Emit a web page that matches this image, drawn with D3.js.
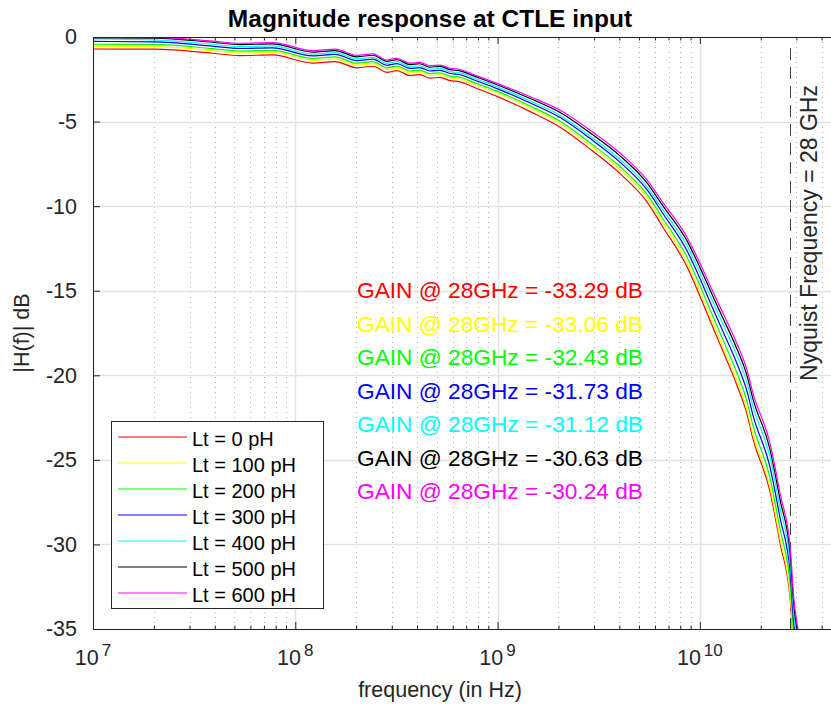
<!DOCTYPE html>
<html>
<head>
<meta charset="utf-8">
<script src="https://cdnjs.cloudflare.com/ajax/libs/d3/7.8.5/d3.min.js"></script>
<style>
body { margin: 0; background: #fff; }
svg { font-family: "Liberation Sans", Arial, Helvetica, sans-serif; }
</style>
</head>
<body>
<svg id="chart" width="831" height="707"></svg>
<script>
"use strict";

// frequency points (Hz)
var freq = [1.0e7, 2.0e7, 3.9e7, 5.3e7, 7.7e7, 1.22e8, 1.57e8, 2.02e8, 2.42e8, 2.84e8,
  3.18e8, 3.69e8, 4.13e8, 4.63e8, 5.19e8, 5.82e8, 6.52e8, 7.73e8, 9.93e8, 1.45e9,
  2.03e9, 2.86e9, 4.03e9, 5.48e9, 6.58e9, 8.63e9, 1.0e10, 1.15e10, 1.30e10, 1.52e10,
  1.71e10, 1.83e10, 2.22e10, 2.49e10, 2.80e10, 2.9e10, 3.1e10, 3.3e10];

// |H(f)| in dB for each Lt value
var lt0 = [-0.71, -0.72, -0.96, -1.10, -1.06, -1.54, -1.45, -1.82, -1.73, -2.09,
  -1.99, -2.28, -2.23, -2.43, -2.39, -2.58, -2.65, -3.00, -3.51, -4.41,
  -5.32, -6.62, -8.08, -9.75, -11.26, -13.57, -15.31, -17.06, -18.57, -20.54,
  -22.29, -23.75, -26.85, -29.91, -33.29, -35.95, -38.65, -41.55];
var lt100 = [-0.57, -0.57, -0.80, -0.94, -0.90, -1.38, -1.29, -1.66, -1.57, -1.93,
  -1.83, -2.12, -2.07, -2.27, -2.23, -2.42, -2.49, -2.82, -3.31, -4.19,
  -5.10, -6.39, -7.82, -9.48, -10.99, -13.32, -15.06, -16.81, -18.32, -20.29,
  -22.04, -23.50, -26.60, -29.66, -33.06, -35.72, -38.42, -41.32];
var lt200 = [-0.43, -0.44, -0.69, -0.83, -0.79, -1.27, -1.18, -1.55, -1.46, -1.82,
  -1.72, -2.01, -1.96, -2.16, -2.12, -2.31, -2.38, -2.71, -3.20, -4.08,
  -4.97, -6.25, -7.66, -9.30, -10.76, -12.99, -14.68, -16.41, -17.89, -19.81,
  -21.54, -22.97, -26.05, -29.08, -32.43, -35.09, -37.79, -40.69];
var lt300 = [-0.26, -0.29, -0.54, -0.68, -0.64, -1.12, -1.03, -1.40, -1.31, -1.67,
  -1.57, -1.86, -1.81, -2.01, -1.97, -2.16, -2.23, -2.56, -3.05, -3.90,
  -4.75, -5.99, -7.40, -9.03, -10.45, -12.62, -14.26, -15.96, -17.39, -19.26,
  -20.94, -22.35, -25.40, -28.41, -31.73, -34.39, -37.09, -39.99];
var lt400 = [-0.11, -0.17, -0.43, -0.57, -0.53, -1.01, -0.92, -1.29, -1.20, -1.56,
  -1.46, -1.75, -1.70, -1.90, -1.86, -2.05, -2.12, -2.45, -2.94, -3.78,
  -4.62, -5.85, -7.24, -8.85, -10.24, -12.33, -13.93, -15.57, -16.97, -18.79,
  -20.43, -21.82, -24.82, -27.81, -31.12, -33.78, -36.48, -39.38];
var lt500 = [-0.05, -0.07, -0.31, -0.45, -0.41, -0.89, -0.80, -1.17, -1.08, -1.44,
  -1.34, -1.63, -1.58, -1.78, -1.74, -1.93, -2.00, -2.33, -2.82, -3.64,
  -4.45, -5.66, -7.03, -8.63, -10.00, -12.04, -13.61, -15.23, -16.61, -18.40,
  -20.02, -21.39, -24.36, -27.33, -30.63, -33.29, -35.99, -38.89];
var lt600 = [-0.03, -0.02, -0.24, -0.37, -0.33, -0.81, -0.72, -1.09, -1.00, -1.36,
  -1.26, -1.55, -1.50, -1.70, -1.66, -1.85, -1.92, -2.25, -2.74, -3.53,
  -4.32, -5.50, -6.86, -8.45, -9.81, -11.82, -13.36, -14.96, -16.32, -18.09,
  -19.69, -21.05, -24.00, -26.96, -30.24, -32.90, -35.60, -38.50];

var seriesNames = ["Lt = 0 pH", "Lt = 100 pH", "Lt = 200 pH", "Lt = 300 pH",
  "Lt = 400 pH", "Lt = 500 pH", "Lt = 600 pH"];
var seriesColors = ["#ff0000", "#ffff00", "#00ff00", "#0000ff", "#00ffff", "#000000", "#ff00ff"];
var gainAt28 = ["-33.29", "-33.06", "-32.43", "-31.73", "-31.12", "-30.63", "-30.24"];
var yTicks = [0, -5, -10, -15, -20, -25, -30, -35];
var xDecades = [1e7, 1e8, 1e9, 1e10];
var nyquist = 28e9;

var series = [lt0, lt100, lt200, lt300, lt400, lt500, lt600];

// plot box
var pLeft = 93, pRight = 831, pTop = 37, pBottom = 629;
var xMax = 4.45e10;

var _x = d3.scaleLog().domain([1e7, xMax]).range([pLeft, pRight]);
var _y = d3.scaleLinear().domain([-35, 0]).range([pBottom, pTop]);

var svg = d3.select("#chart");
var axisColor = "#262626";

svg.append("defs").append("clipPath").attr("id", "plotclip")
  .append("rect").attr("x", pLeft).attr("y", pTop)
  .attr("width", pRight - pLeft).attr("height", pBottom - pTop);

// grid
var minorTicks = _x.ticks().filter(function (v) {
  return xDecades.indexOf(v) < 0 && v < xMax;
});

svg.append("g").selectAll("line").data(minorTicks).enter().append("line")
  .attr("x1", function (d) { return Math.round(_x(d)) + 0.5; })
  .attr("x2", function (d) { return Math.round(_x(d)) + 0.5; })
  .attr("y1", pTop).attr("y2", pBottom)
  .attr("stroke", "#b4b4b4").attr("stroke-width", 1)
  .attr("stroke-dasharray", "1,4");

svg.append("g").selectAll("line").data(xDecades).enter().append("line")
  .attr("x1", function (d) { return Math.round(_x(d)) + 0.5; })
  .attr("x2", function (d) { return Math.round(_x(d)) + 0.5; })
  .attr("y1", pTop).attr("y2", pBottom)
  .attr("stroke", "#e2e2e2").attr("stroke-width", 1.5);

svg.append("g").selectAll("line").data(yTicks).enter().append("line")
  .attr("x1", pLeft).attr("x2", pRight)
  .attr("y1", function (d) { return Math.round(_y(d)) + 0.5; })
  .attr("y2", function (d) { return Math.round(_y(d)) + 0.5; })
  .attr("stroke", "#e2e2e2").attr("stroke-width", 1.5);

// Nyquist marker
svg.append("line")
  .attr("x1", Math.round(_x(nyquist)) + 0.5).attr("x2", Math.round(_x(nyquist)) + 0.5)
  .attr("y1", 48).attr("y2", pBottom)
  .attr("stroke", "#404040").attr("stroke-width", 1)
  .attr("stroke-dasharray", "12,7");

// curves
var valueline = d3.line()
  .x(function (d) { return _x(d.f); })
  .y(function (d) { return _y(d.v); })
  .curve(d3.curveMonotoneX);

var curves = svg.append("g").attr("clip-path", "url(#plotclip)");
series.forEach(function (vals, i) {
  var pts = freq.map(function (f, j) { return { f: f, v: vals[j] }; });
  curves.append("path").datum(pts)
    .attr("d", valueline)
    .attr("fill", "none")
    .attr("stroke", seriesColors[i])
    .attr("stroke-width", 1.2);
});

// axes (ticks inside, MATLAB style)
function styleAxis(g) {
  g.selectAll("path.domain").attr("stroke", axisColor);
  g.selectAll(".tick line").attr("stroke", axisColor);
  g.selectAll("text").attr("fill", "#262626");
}

svg.append("g").attr("transform", "translate(0," + pBottom + ")")
  .call(d3.axisBottom(_x).tickValues(xDecades).tickSize(-7).tickSizeOuter(0).tickFormat(""))
  .call(styleAxis);
svg.append("g").attr("transform", "translate(0," + pBottom + ")")
  .call(d3.axisBottom(_x).tickValues(minorTicks).tickSize(-3.5).tickSizeOuter(0).tickFormat(""))
  .call(styleAxis);
svg.append("g").attr("transform", "translate(0," + pTop + ")")
  .call(d3.axisTop(_x).tickValues(xDecades).tickSize(-7).tickSizeOuter(0).tickFormat(""))
  .call(styleAxis);
svg.append("g").attr("transform", "translate(0," + pTop + ")")
  .call(d3.axisTop(_x).tickValues(minorTicks).tickSize(-3.5).tickSizeOuter(0).tickFormat(""))
  .call(styleAxis);

svg.append("g").attr("transform", "translate(" + pLeft + ",0)")
  .call(d3.axisLeft(_y).tickValues(yTicks).tickSize(-7).tickSizeOuter(0).tickPadding(16)
    .tickFormat(function (d) { return String(d); }))
  .call(styleAxis)
  .selectAll("text").attr("font-size", "21.5px")
  .attr("font-family", "Liberation Sans, Arial, sans-serif");

// x tick labels as 10^n
var xl = svg.append("g").selectAll("text").data(xDecades).enter().append("text")
  .attr("x", function (d) { return _x(d); })
  .attr("y", 665)
  .attr("text-anchor", "middle")
  .attr("fill", "#262626")
  .attr("font-size", "21.5px");
xl.append("tspan").text("10");
xl.append("tspan").attr("dx", 3).attr("dy", -9).attr("font-size", "17px")
  .text(function (d) { return Math.round(Math.log10(d)); });

// labels
svg.append("text").attr("x", 430).attr("y", 27)
  .attr("text-anchor", "middle").attr("font-weight", "bold")
  .attr("font-size", "24.5px").attr("fill", "#000")
  .text("Magnitude response at CTLE input");

svg.append("text").attr("x", 440).attr("y", 697)
  .attr("text-anchor", "middle").attr("font-size", "21.5px").attr("fill", "#262626")
  .text("frequency (in Hz)");

svg.append("text").attr("transform", "translate(29,333) rotate(-90)")
  .attr("text-anchor", "middle").attr("font-size", "21.5px").attr("fill", "#262626")
  .text("|H(f)| dB");

svg.append("text").attr("transform", "translate(817,233) rotate(-90)")
  .attr("text-anchor", "middle").attr("font-size", "23px").attr("fill", "#262626")
  .text("Nyquist Frequency = 28 GHz");

// gain annotations
svg.append("g").selectAll("text").data(gainAt28).enter().append("text")
  .attr("x", 357)
  .attr("y", function (d, i) { return 298 + i * 33.5; })
  .attr("font-size", "22.7px")
  .attr("fill", function (d, i) { return seriesColors[i]; })
  .text(function (d) { return "GAIN @ 28GHz = " + d + " dB"; });

// legend
var lg = svg.append("g");
lg.append("rect").attr("x", 111.5).attr("y", 421.5).attr("width", 212).attr("height", 187)
  .attr("fill", "#fff").attr("stroke", axisColor).attr("stroke-width", 1);
var rows = lg.selectAll("g.row").data(seriesNames).enter().append("g")
  .attr("class", "row")
  .attr("transform", function (d, i) { return "translate(0," + (437 + i * 26) + ")"; });
rows.append("line").attr("x1", 118).attr("x2", 187).attr("y1", 0).attr("y2", 0)
  .attr("stroke", function (d, i) { return seriesColors[i]; }).attr("stroke-width", 1.1);
rows.append("text").attr("x", 192).attr("y", 9)
  .attr("font-size", "20px").attr("fill", "#000")
  .text(function (d) { return d; });
</script>
</body>
</html>
